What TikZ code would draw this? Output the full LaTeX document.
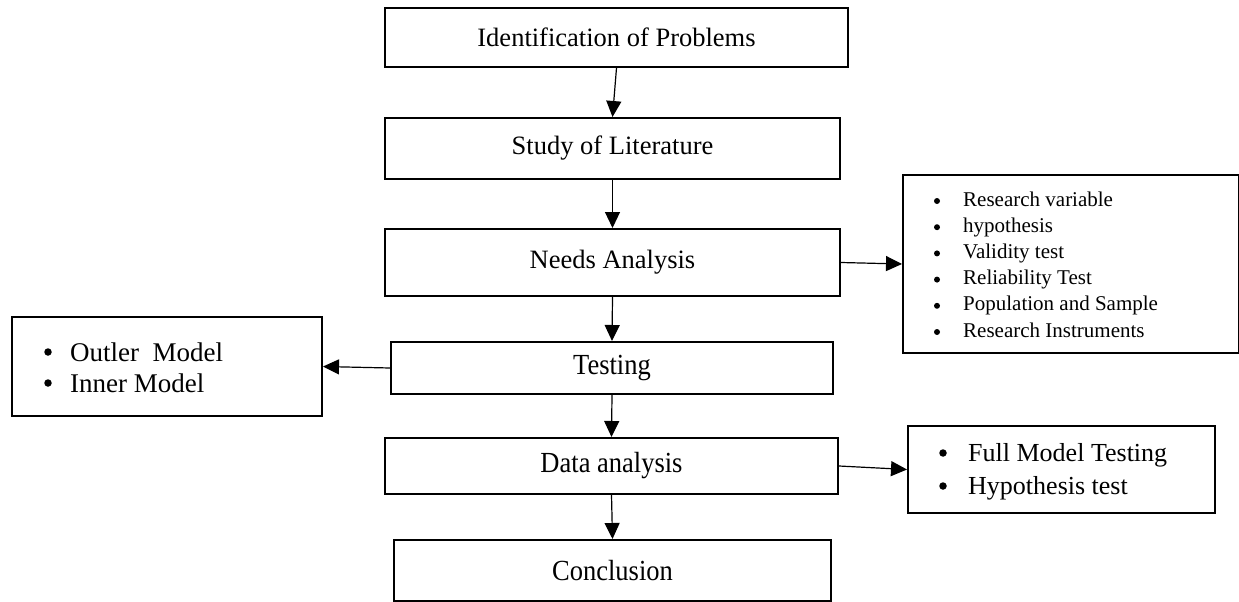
\documentclass[tikz,border=0pt]{standalone}
\usepackage{fontspec}
\setmainfont{Liberation Serif}
\usetikzlibrary{arrows.meta}
\newcommand{\tallish}[1]{\scalebox{1}[1.1]{#1}}
\begin{document}
\begin{tikzpicture}[x=1pt,y=-1pt,
  box/.style={draw, line width=2pt, inner sep=0pt, anchor=north west, align=center},
  lbl/.style={font=\fontsize{26.5}{30}\selectfont},
  itm/.style={anchor=base west, inner sep=0pt, font=\fontsize{21}{24}\selectfont},
  dot/.style={circle, fill, inner sep=0pt, minimum size=#1},
  dot/.default=6.5pt,
  bigitm/.style={anchor=base west, inner sep=0pt, font=\fontsize{27}{30}\selectfont},
  arr/.style={line width=1.2pt, -{Triangle[length=16pt,width=15pt]}}
]
\useasboundingbox (0,0) rectangle (1239,602);
% main flow
\node[box, lbl, minimum width=463pt, minimum height=59pt] (b1) at (384,7) {Identification of Problems};
\node[box, lbl, minimum width=455pt, minimum height=61pt] (b2) at (384,117) {Study of Literature};
\node[box, lbl, minimum width=455pt, minimum height=67pt] (b3) at (384,228) {Needs Analysis};
\node[box, lbl, minimum width=442pt, minimum height=52pt] (b4) at (390,341) {\tallish{Testing}};
\node[box, lbl, minimum width=453pt, minimum height=56pt] (b5) at (384,437) {\tallish{Data analysis}};
\node[box, lbl, minimum width=437pt, minimum height=61pt] (b6) at (393,539) {\tallish{Conclusion}};
% side boxes
\node[box, minimum width=336pt, minimum height=178pt] (r1) at (902,174) {};
\node[box, minimum width=307pt, minimum height=87pt] (r2) at (907,425) {};
\node[box, minimum width=310pt, minimum height=99pt] (l1) at (11,316) {};
% right list 1
\foreach \t [count=\i] in {Research variable, hypothesis, Validity test, Reliability Test, Population and Sample, Research Instruments}{
  \node[dot=6pt] (r1b\i) at (937,{201+26.2*(\i-1)}) {};
  \node[itm] (r1t\i) at (963,{206+26.2*(\i-1)}) {\t};
}
% left list
\node[dot=7.5pt] (l1b1) at (48,352) {};
\node[bigitm] (l1t1) at (70,361) {Outler\ \ Model};
\node[dot=7.5pt] (l1b2) at (48,383) {};
\node[bigitm] (l1t2) at (70,392) {Inner Model};
% right list 2
\node[dot=7.5pt] (r2b1) at (943,453) {};
\node[bigitm, font=\fontsize{26}{30}\selectfont] (r2t1) at (968,461) {Full Model Testing};
\node[dot=7.5pt] (r2b2) at (943,486) {};
\node[bigitm, font=\fontsize{26}{30}\selectfont] (r2t2) at (968,494) {Hypothesis test};
% connectors
\draw[arr] (b1.south) -- (b2.north);
\draw[arr] (b2.south) -- (b3.north);
\draw[arr] (b3.south) -- (b4.north);
\draw[arr] (b4.south) -- (b5.north);
\draw[arr] (b5.south) -- (b6.north);
\draw[arr] (b3.east) -- (r1.west);
\draw[arr] (b4.west) -- (l1.east);
\draw[arr] (b5.east) -- (r2.west);
\end{tikzpicture}
\end{document}
